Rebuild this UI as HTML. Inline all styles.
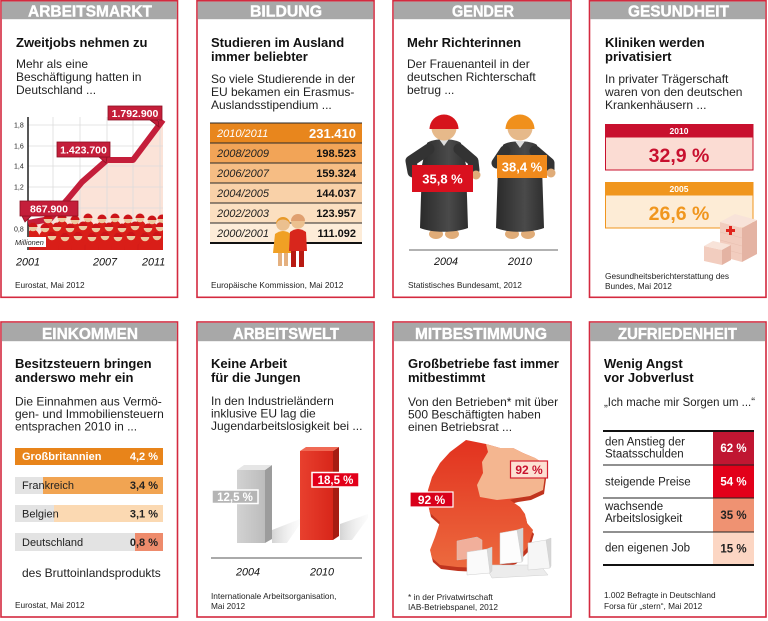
<!DOCTYPE html>
<html><head><meta charset="utf-8">
<style>
html,body{margin:0;padding:0;background:#fff;}
svg{display:block}
text{font-family:"Liberation Sans",Arial,sans-serif;}
.h{font-size:16px;font-weight:bold;fill:#fff;text-anchor:middle;stroke:#fff;stroke-width:0.4}
.t{font-size:13px;font-weight:bold;fill:#111}
.s{font-size:12px;fill:#222}
.src{font-size:8.3px;fill:#222}
.yr{font-size:10.8px;font-style:italic;fill:#111}
</style></head><body>
<svg width="768" height="621" viewBox="0 0 768 621" xmlns="http://www.w3.org/2000/svg">
<defs>
 <linearGradient id="mapg" x1="0" y1="0" x2="0" y2="1"><stop offset="0" stop-color="#e2321f"/><stop offset="1" stop-color="#ec6a3e"/></linearGradient>
 <linearGradient id="robe" x1="0" y1="0" x2="1" y2="0"><stop offset="0" stop-color="#2a2a2a"/><stop offset="0.6" stop-color="#4a4a4a"/><stop offset="1" stop-color="#2e2e2e"/></linearGradient>
 <linearGradient id="gbar" x1="0" y1="0" x2="1" y2="0"><stop offset="0" stop-color="#d2d2d2"/><stop offset="1" stop-color="#bcbcbc"/></linearGradient>
 <linearGradient id="rbar" x1="0" y1="0" x2="1" y2="0"><stop offset="0" stop-color="#e8402e"/><stop offset="1" stop-color="#d8261a"/></linearGradient>
 <linearGradient id="shad" x1="0" y1="0" x2="1" y2="0"><stop offset="0" stop-color="#d4d4d4"/><stop offset="1" stop-color="#f4f4f4" stop-opacity="0.3"/></linearGradient>
 <clipPath id="crowd"><rect x="29" y="205" width="134" height="45"/></clipPath>
 <g id="p"><ellipse cx="0" cy="11" rx="6.5" ry="8.5" fill="#d91e18"/><circle cx="0" cy="0" r="4.3" fill="#ecc9a0"/><path d="M-4.5,0 A4.5,4.5 0 0 1 4.5,0 Z" fill="#cc1418"/></g>
</defs>

<!-- ===== Panel frames ===== -->
<g fill="none" stroke="#d42a3f" stroke-width="1.6">
 <rect x="1" y="0.8" width="176.5" height="296.5"/>
 <rect x="197" y="0.8" width="177" height="296.5"/>
 <rect x="393" y="0.8" width="178" height="296.5"/>
 <rect x="589.5" y="0.8" width="176.5" height="296.5"/>
 <rect x="1" y="322" width="176.5" height="295"/>
 <rect x="197" y="322" width="177" height="295"/>
 <rect x="393" y="322" width="178" height="295"/>
 <rect x="589.5" y="322" width="176.5" height="295"/>
</g>
<g fill="#a8a8a8">
 <rect x="1.8" y="1.6" width="174.9" height="17.6"/>
 <rect x="197.8" y="1.6" width="175.4" height="17.6"/>
 <rect x="393.8" y="1.6" width="176.4" height="17.6"/>
 <rect x="590.3" y="1.6" width="174.9" height="17.6"/>
 <rect x="1.8" y="322.8" width="174.9" height="18.4"/>
 <rect x="197.8" y="322.8" width="175.4" height="18.4"/>
 <rect x="393.8" y="322.8" width="176.4" height="18.4"/>
 <rect x="590.3" y="322.8" width="174.9" height="18.4"/>
</g>
<text class="h" x="90" y="16.5" textLength="124" lengthAdjust="spacingAndGlyphs">ARBEITSMARKT</text>
<text class="h" x="286" y="16.5" textLength="72" lengthAdjust="spacingAndGlyphs">BILDUNG</text>
<text class="h" x="483" y="16.5" textLength="62" lengthAdjust="spacingAndGlyphs">GENDER</text>
<text class="h" x="678.5" y="16.5" textLength="101" lengthAdjust="spacingAndGlyphs">GESUNDHEIT</text>
<text class="h" x="90" y="339" textLength="96" lengthAdjust="spacingAndGlyphs">EINKOMMEN</text>
<text class="h" x="286" y="339" textLength="106" lengthAdjust="spacingAndGlyphs">ARBEITSWELT</text>
<text class="h" x="481" y="339" textLength="132" lengthAdjust="spacingAndGlyphs">MITBESTIMMUNG</text>
<text class="h" x="677.5" y="339" textLength="119" lengthAdjust="spacingAndGlyphs">ZUFRIEDENHEIT</text>

<!-- ===== Panel 1: ARBEITSMARKT ===== -->
<text class="t" x="16" y="47">Zweitjobs nehmen zu</text>
<text class="s" x="16" y="68">Mehr als eine</text>
<text class="s" x="16" y="81">Beschäftigung hatten in</text>
<text class="s" x="16" y="94">Deutschland ...</text>
<polygon points="28,223 50,219 67,200 82,182 107,160 133,160 163,120 163,250 28,250" fill="#fbe3d8"/>
<g stroke="#dcdcdc" stroke-width="0.8">
 <line x1="28" y1="125" x2="163" y2="125"/><line x1="28" y1="146" x2="163" y2="146"/>
 <line x1="28" y1="166" x2="163" y2="166"/><line x1="28" y1="187" x2="163" y2="187"/>
 <line x1="28" y1="208" x2="163" y2="208"/><line x1="28" y1="229" x2="163" y2="229"/>
 <line x1="53" y1="117" x2="53" y2="250"/><line x1="80" y1="117" x2="80" y2="250"/>
 <line x1="107" y1="117" x2="107" y2="250"/><line x1="133" y1="117" x2="133" y2="250"/>
 <line x1="160" y1="117" x2="160" y2="250"/>
</g>
<line x1="28" y1="117" x2="28" y2="250" stroke="#111" stroke-width="1.4"/>
<g font-size="7" fill="#222">
 <text x="14" y="127.5">1,8</text><text x="14" y="148.5">1,6</text><text x="14" y="168.5">1,4</text>
 <text x="14" y="189.5">1,2</text><text x="14" y="231.5">0,8</text>
</g>
<polyline points="28,223 50,219 67,200 82,182 107,160 133,160 163,120" fill="none" stroke="#c41e3a" stroke-width="6" stroke-linejoin="round"/>
<g clip-path="url(#crowd)">
 <rect x="28" y="236" width="136" height="15" fill="#d41c18"/>
 <use href="#p" x="48" y="219"/><use href="#p" x="62" y="218"/><use href="#p" x="75" y="220"/><use href="#p" x="88" y="218"/><use href="#p" x="102" y="219"/><use href="#p" x="115" y="218"/><use href="#p" x="128" y="219"/><use href="#p" x="140" y="218"/><use href="#p" x="152" y="220"/><use href="#p" x="162" y="219"/>
 <use href="#p" x="33" y="227"/><use href="#p" x="45" y="228"/><use href="#p" x="57" y="227"/><use href="#p" x="70" y="228"/><use href="#p" x="83" y="226"/><use href="#p" x="96" y="228"/><use href="#p" x="109" y="227"/><use href="#p" x="122" y="228"/><use href="#p" x="135" y="226"/><use href="#p" x="148" y="228"/><use href="#p" x="160" y="227"/>
 <use href="#p" x="52" y="236"/><use href="#p" x="65" y="237"/><use href="#p" x="78" y="236"/><use href="#p" x="92" y="237"/><use href="#p" x="105" y="236"/><use href="#p" x="118" y="237"/><use href="#p" x="131" y="236"/><use href="#p" x="145" y="237"/><use href="#p" x="157" y="236"/>
</g>
<rect x="14" y="237" width="32" height="10" fill="#fff"/>
<text x="15" y="245" font-size="7.3" font-style="italic" fill="#222">Millionen</text>
<g fill="#c41e3a" stroke="#8c1024" stroke-width="0.8">
 <path d="M150,120 L158,120 L159,127 Z"/>
 <rect x="108" y="106" width="54" height="14"/>
 <path d="M99,157 L107,157 L106,163 Z"/>
 <rect x="57" y="142" width="53" height="15"/>
 <path d="M22,216 L31,216 L25,222 Z"/>
 <rect x="20" y="201" width="58" height="15"/>
</g>
<g font-size="10.5" font-weight="bold" fill="#fff" text-anchor="middle">
 <text x="135" y="117">1.792.900</text>
 <text x="83.5" y="153.5">1.423.700</text>
 <text x="49" y="212.5">867.900</text>
</g>
<text class="yr" x="16" y="265.5">2001</text>
<text class="yr" x="93" y="265.5">2007</text>
<text class="yr" x="142" y="265.5">2011</text>
<text class="src" x="15" y="288">Eurostat, Mai 2012</text>

<!-- ===== Panel 2: BILDUNG ===== -->
<text class="t" x="211" y="47">Studieren im Ausland</text>
<text class="t" x="211" y="61">immer beliebter</text>
<text class="s" x="211" y="83">So viele Studierende in der</text>
<text class="s" x="211" y="96">EU bekamen ein Erasmus-</text>
<text class="s" x="211" y="109">Auslandsstipendium ...</text>
<rect x="210" y="123" width="152" height="20" fill="#e8861d"/>
<rect x="210" y="143" width="152" height="20" fill="#f2a457"/>
<rect x="210" y="163" width="152" height="20" fill="#f6bd84"/>
<rect x="210" y="183" width="152" height="20" fill="#f9d1a8"/>
<rect x="210" y="203" width="152" height="20" fill="#fbdfc0"/>
<rect x="210" y="223" width="152" height="20" fill="#fdecd8"/>
<g stroke="#2a2a2a" stroke-width="0.9">
 <line x1="210" y1="123" x2="362" y2="123"/><line x1="210" y1="143" x2="362" y2="143"/>
 <line x1="210" y1="163" x2="362" y2="163"/><line x1="210" y1="183" x2="362" y2="183"/>
 <line x1="210" y1="203" x2="362" y2="203"/><line x1="210" y1="223" x2="362" y2="223"/>
</g>
<line x1="210" y1="243" x2="362" y2="243" stroke="#111" stroke-width="2"/>
<g font-size="11" font-style="italic" fill="#222">
 <text x="217" y="137" fill="#fff">2010/2011</text>
 <text x="217" y="157">2008/2009</text><text x="217" y="177">2006/2007</text>
 <text x="217" y="197">2004/2005</text><text x="217" y="217">2002/2003</text>
 <text x="217" y="237">2000/2001</text>
</g>
<g font-size="11" font-weight="bold" fill="#111" text-anchor="end">
 <text x="356" y="138" font-size="13" fill="#fff">231.410</text>
 <text x="356" y="157">198.523</text><text x="356" y="177">159.324</text>
 <text x="356" y="197">144.037</text><text x="356" y="217">123.957</text>
 <text x="356" y="237">111.092</text>
</g>
<!-- couple -->
<g>
 <rect x="278" y="250" width="4" height="16" fill="#e4b07f"/><rect x="284" y="250" width="4" height="16" fill="#e4b07f"/>
 <path d="M275,234 Q283,228 291,234 L293,253 L273,253 Z" fill="#f0a024"/>
 <circle cx="283" cy="224" r="6.8" fill="#ebc08f"/>
 <path d="M276,224 A7,7 0 0 1 290,224 L288,221 Q283,218 278,221 Z" fill="#e89a2a"/>
 <rect x="291" y="249" width="5" height="18" fill="#b81a12"/><rect x="299" y="249" width="5" height="18" fill="#b81a12"/>
 <path d="M290,232 Q298,226 306,232 L307,251 L289,251 Z" fill="#d8261c"/>
 <circle cx="298" cy="222" r="6.8" fill="#ebc08f"/>
 <path d="M291,221 A7,7 0 0 1 305,221 Z" fill="#e0a070"/>
</g>
<text class="src" x="211" y="288">Europäische Kommission, Mai 2012</text>

<!-- ===== Panel 3: GENDER ===== -->
<text class="t" x="407" y="47">Mehr Richterinnen</text>
<text class="s" x="407" y="68">Der Frauenanteil in der</text>
<text class="s" x="407" y="81">deutschen Richterschaft</text>
<text class="s" x="407" y="94">betrug ...</text>
<!-- left judge -->
<ellipse cx="436" cy="234" rx="7" ry="5" fill="#e0ac78"/><ellipse cx="452" cy="234" rx="7" ry="5" fill="#e0ac78"/>
<path d="M427,143 C433,138 455,138 461,143 L466,165 L468,228 C455,233 432,233 420,228 L422,165 Z" fill="url(#robe)"/>
<path d="M429,149 L411,161 L413,172" fill="none" stroke="#333" stroke-width="11" stroke-linecap="round" stroke-linejoin="round"/>
<path d="M459,149 L473,161 L474,170" fill="none" stroke="#333" stroke-width="11" stroke-linecap="round" stroke-linejoin="round"/>
<circle cx="476" cy="175" r="4.5" fill="#e0ac78"/>
<path d="M439,139 L449,139 L444,146 Z" fill="#ddd"/>
<circle cx="444" cy="128" r="12.5" fill="#e6b98a"/>
<path d="M429.5,129 A14.5,14.5 0 0 1 458.5,129 Z" fill="#d6141c"/>
<rect x="412" y="165" width="61" height="27" fill="#d9101e"/>
<text x="442.5" y="183.5" font-size="13" font-weight="bold" fill="#fff" text-anchor="middle">35,8 %</text>
<!-- right judge -->
<ellipse cx="512" cy="234" rx="7" ry="5" fill="#e0ac78"/><ellipse cx="528" cy="234" rx="7" ry="5" fill="#e0ac78"/>
<path d="M503,145 C509,140 531,140 537,145 L542,167 L544,228 C531,233 508,233 496,228 L498,167 Z" fill="url(#robe)"/>
<path d="M505,151 L497,163" fill="none" stroke="#333" stroke-width="11" stroke-linecap="round"/>
<path d="M535,151 L549,163 L549,170" fill="none" stroke="#333" stroke-width="11" stroke-linecap="round" stroke-linejoin="round"/>
<circle cx="551" cy="173" r="4.5" fill="#e0ac78"/>
<path d="M515,141 L525,141 L520,148 Z" fill="#ddd"/>
<circle cx="520" cy="128" r="12.5" fill="#e6b98a"/>
<path d="M505.5,129 A14.5,14.5 0 0 1 534.5,129 Z" fill="#f0901c"/>
<rect x="497" y="155" width="50" height="23" fill="#f08a1c"/>
<text x="522" y="171.5" font-size="13" font-weight="bold" fill="#fff" text-anchor="middle">38,4 %</text>
<line x1="409" y1="250" x2="558" y2="250" stroke="#666" stroke-width="1"/>
<text class="yr" x="446" y="265" text-anchor="middle">2004</text>
<text class="yr" x="520" y="265" text-anchor="middle">2010</text>
<text class="src" x="408" y="288">Statistisches Bundesamt, 2012</text>

<!-- ===== Panel 4: GESUNDHEIT ===== -->
<text class="t" x="605" y="47">Kliniken werden</text>
<text class="t" x="605" y="61">privatisiert</text>
<text class="s" x="605" y="83">In privater Trägerschaft</text>
<text class="s" x="605" y="96">waren von den deutschen</text>
<text class="s" x="605" y="109">Krankenhäusern ...</text>
<rect x="605.5" y="137" width="147.5" height="33" fill="#fbdcd3" stroke="#c8102e" stroke-width="1"/>
<rect x="605" y="124" width="148.5" height="13" fill="#c8102e"/>
<text x="679" y="134" font-size="8.5" font-weight="bold" fill="#fff" text-anchor="middle">2010</text>
<text x="679" y="162" font-size="19.5" font-weight="bold" fill="#c8102e" text-anchor="middle">32,9 %</text>
<rect x="605.5" y="195" width="147.5" height="33" fill="#fdecd6" stroke="#f0961e" stroke-width="1"/>
<rect x="605" y="182" width="148.5" height="13" fill="#f0961e"/>
<text x="679" y="192" font-size="8.5" font-weight="bold" fill="#fff" text-anchor="middle">2005</text>
<text x="679" y="220" font-size="19.5" font-weight="bold" fill="#f0961e" text-anchor="middle">26,6 %</text>
<!-- hospital -->
<g>
 <polygon points="720,222 742,228 742,262 720,256" fill="#f2cdbf"/>
 <polygon points="742,228 757,220 757,254 742,262" fill="#e4b3a3"/>
 <polygon points="720,222 735,214 757,220 742,228" fill="#f8e3d9"/>
 <g stroke="#e8bfb0" stroke-width="0.6"><line x1="720" y1="232" x2="742" y2="238"/><line x1="720" y1="240" x2="742" y2="246"/><line x1="720" y1="248" x2="742" y2="254"/></g>
 <rect x="729" y="226" width="3" height="9" fill="#e0241c"/><rect x="726" y="229" width="9" height="3" fill="#e0241c"/>
 <polygon points="704,246 722,250 722,265 704,261" fill="#f2cdbf"/>
 <polygon points="704,246 713,241 731,245 722,250" fill="#f8e3d9"/>
 <polygon points="722,250 731,245 731,260 722,265" fill="#e4b3a3"/>
</g>
<text class="src" x="605" y="279">Gesundheitsberichterstattung des</text>
<text class="src" x="605" y="289">Bundes, Mai 2012</text>

<!-- ===== Panel 5: EINKOMMEN ===== -->
<text class="t" x="15" y="368">Besitzsteuern bringen</text>
<text class="t" x="15" y="382">anderswo mehr ein</text>
<text class="s" x="15" y="405.5">Die Einnahmen aus Vermö-</text>
<text class="s" x="15" y="418">gen- und Immobiliensteuern</text>
<text class="s" x="15" y="430.5">entsprachen 2010 in ...</text>
<rect x="15" y="448" width="148" height="17" fill="#e8841a"/>
<rect x="15" y="477" width="148" height="17" fill="#e3e3e3"/><rect x="43" y="477" width="120" height="17" fill="#f1a452"/>
<rect x="15" y="505" width="148" height="17" fill="#e3e3e3"/><rect x="54" y="505" width="109" height="17" fill="#fbd9b2"/>
<rect x="15" y="533" width="148" height="18" fill="#e3e3e3"/><rect x="135" y="533" width="28" height="18" fill="#ee8b6c"/>
<g font-size="11">
 <text x="22" y="460" font-weight="bold" fill="#fff">Großbritannien</text>
 <text x="22" y="489" fill="#222">Frankreich</text>
 <text x="22" y="517.5" fill="#222">Belgien</text>
 <text x="22" y="546" fill="#222">Deutschland</text>
</g>
<g font-size="11" font-weight="bold" text-anchor="end" fill="#222">
 <text x="158" y="460" fill="#fff">4,2 %</text>
 <text x="158" y="489">3,4 %</text>
 <text x="158" y="517.5">3,1 %</text>
 <text x="158" y="546">0,8 %</text>
</g>
<text x="22" y="577" font-size="12" fill="#222">des Bruttoinlandsprodukts</text>
<text class="src" x="15" y="608">Eurostat, Mai 2012</text>

<!-- ===== Panel 6: ARBEITSWELT ===== -->
<text class="t" x="211" y="368">Keine Arbeit</text>
<text class="t" x="211" y="382">für die Jungen</text>
<text class="s" x="211" y="405">In den Industrieländern</text>
<text class="s" x="211" y="417.5">inklusive EU lag die</text>
<text class="s" x="211" y="430">Jugendarbeitslosigkeit bei ...</text>
<polygon points="272,543 287,543 300,524 300,519 272,530" fill="url(#shad)"/>
<polygon points="340,540 352,540 368,518 368,514 340,524" fill="url(#shad)"/>
<polygon points="237,470 265,470 265,543 237,543" fill="url(#gbar)"/>
<polygon points="265,470 272,465 272,539 265,543" fill="#9c9c9c"/>
<polygon points="237,470 244,465 272,465 265,470" fill="#e6e6e6"/>
<polygon points="300,451 333,451 333,540 300,540" fill="url(#rbar)"/>
<polygon points="333,451 339,447 339,536 333,540" fill="#a61c12"/>
<polygon points="300,451 306,447 339,447 333,451" fill="#f06a55"/>
<rect x="212" y="490" width="46" height="13.5" fill="#b5b5b5" stroke="#fff" stroke-width="1.5"/>
<text x="235" y="501" font-size="11.5" font-weight="bold" fill="#fff" text-anchor="middle">12,5 %</text>
<rect x="312" y="472.5" width="47" height="14.5" fill="#e2001a" stroke="#fff" stroke-width="1.5"/>
<text x="335.5" y="484" font-size="11.5" font-weight="bold" fill="#fff" text-anchor="middle">18,5 %</text>
<line x1="211" y1="558" x2="362" y2="558" stroke="#555" stroke-width="1"/>
<text class="yr" x="248" y="575.5" text-anchor="middle">2004</text>
<text class="yr" x="322" y="575.5" text-anchor="middle">2010</text>
<text class="src" x="211" y="599">Internationale Arbeitsorganisation,</text>
<text class="src" x="211" y="609">Mai 2012</text>

<!-- ===== Panel 7: MITBESTIMMUNG ===== -->
<text class="t" x="408" y="368">Großbetriebe fast immer</text>
<text class="t" x="408" y="382">mitbestimmt</text>
<text class="s" x="408" y="406">Von den Betrieben* mit über</text>
<text class="s" x="408" y="418.5">500 Beschäftigten haben</text>
<text class="s" x="408" y="431">einen Betriebsrat ...</text>
<g transform="translate(1,4)">
 <polygon fill="#c0341e" points="450,452 458,446 466,440 476,442 486,444 500,448 513,448 523,453 535,458 543,463 545,475 543,490 530,496 517,498 510,500 520,507 525,514 527,523 533,530 530,540 527,548 520,555 515,560 500,565 480,568 457,567 440,565 432,558 430,550 435,537 440,522 430,513 427,500 428,490 432,477 440,463"/>
</g>
<polygon fill="url(#mapg)" points="450,452 458,446 466,440 476,442 486,444 500,448 513,448 523,453 535,458 543,463 545,475 543,490 530,496 517,498 510,500 520,507 525,514 527,523 533,530 530,540 527,548 520,555 515,560 500,565 480,568 457,567 440,565 432,558 430,550 435,537 440,522 430,513 427,500 428,490 432,477 440,463"/>
<polygon fill="#f4b690" points="486,444 500,448 513,448 523,453 535,458 543,463 545,475 543,490 530,496 517,498 497,500 480,497 477,485 483,473 482,462 488,452"/>
<!-- buildings -->
<g stroke="#d0d0d0" stroke-width="0.5">
 <polygon points="485,565 540,565 548,575 492,578" fill="#ececec"/>
 <polygon points="457,541 477,537 482,540 482,557 457,560" fill="#f2b8a6" opacity="0.9"/>
 <polygon points="467,552 487,549 490,552 490,573 467,575" fill="#fafafa"/>
 <polygon points="487,549 492,547 492,571 490,573" fill="#d8d8d8"/>
 <polygon points="500,533 517,530 522,532 522,562 500,564" fill="#fdfdfd"/>
 <polygon points="517,530 523,528 523,560 522,562" fill="#d4d4d4"/>
 <polygon points="528,543 546,540 550,542 550,568 528,570" fill="#f6f6f6"/>
 <polygon points="546,540 551,538 551,566 550,568" fill="#d6d6d6"/>
</g>
<rect x="510.5" y="461" width="37" height="17" fill="#fde0d3" stroke="#d42030" stroke-width="1.2"/>
<text x="529" y="474" font-size="12" font-weight="bold" fill="#c8102e" text-anchor="middle">92 %</text>
<rect x="410" y="492" width="43" height="15" fill="#d9001b" stroke="#fff" stroke-width="1.2"/>
<text x="431.5" y="504" font-size="12" font-weight="bold" fill="#fff" text-anchor="middle">92 %</text>
<text class="src" x="408" y="600">* in der Privatwirtschaft</text>
<text class="src" x="408" y="610">IAB-Betriebspanel, 2012</text>

<!-- ===== Panel 8: ZUFRIEDENHEIT ===== -->
<text class="t" x="604" y="368">Wenig Angst</text>
<text class="t" x="604" y="382">vor Jobverlust</text>
<text class="s" x="604" y="406" textLength="151" lengthAdjust="spacingAndGlyphs">„Ich mache mir Sorgen um ...“</text>
<rect x="713" y="431" width="41" height="34" fill="#c01632"/>
<rect x="713" y="465" width="41" height="33" fill="#e2001a"/>
<rect x="713" y="498" width="41" height="34" fill="#ef9272"/>
<rect x="713" y="532" width="41" height="33" fill="#fcd6c3"/>
<g stroke="#222" stroke-width="0.9">
 <line x1="603" y1="465" x2="754" y2="465"/><line x1="603" y1="498" x2="754" y2="498"/><line x1="603" y1="532" x2="754" y2="532"/>
</g>
<line x1="603" y1="431" x2="754" y2="431" stroke="#111" stroke-width="2"/>
<line x1="603" y1="565" x2="754" y2="565" stroke="#111" stroke-width="2"/>
<g font-size="11.5" fill="#222">
 <text x="605" y="445.5">den Anstieg der</text>
 <text x="605" y="457.5">Staatsschulden</text>
 <text x="605" y="485.5">steigende Preise</text>
 <text x="605" y="510">wachsende</text>
 <text x="605" y="522">Arbeitslosigkeit</text>
 <text x="605" y="551.5">den eigenen Job</text>
</g>
<g font-size="11.5" font-weight="bold" text-anchor="middle">
 <text x="733.5" y="452" fill="#fff">62 %</text>
 <text x="733.5" y="485.5" fill="#fff">54 %</text>
 <text x="733.5" y="519" fill="#222">35 %</text>
 <text x="733.5" y="552.5" fill="#222">15 %</text>
</g>
<text class="src" x="604" y="598">1.002 Befragte in Deutschland</text>
<text class="src" x="604" y="609">Forsa für „stern“, Mai 2012</text>
</svg>
</body></html>
